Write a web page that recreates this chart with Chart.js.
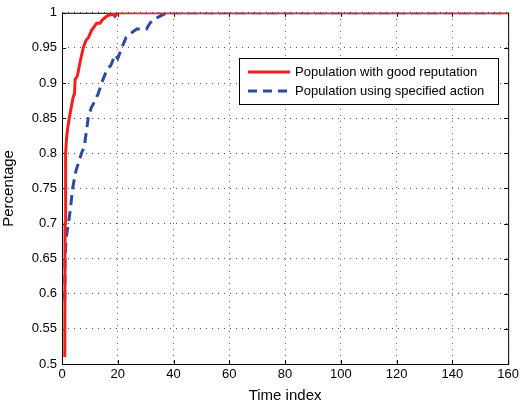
<!DOCTYPE html>
<html>
<head>
<meta charset="utf-8">
<script src="https://cdn.jsdelivr.net/npm/chart.js@4"></script>
<style>
  html, body { margin: 0; padding: 0; background: #fff; }
  #wrap { width: 522px; height: 405px; }
</style>
</head>
<body>
<div id="wrap"><canvas id="myChart" width="522" height="405"></canvas></div>
<script>
// Данные
const xTicks = [0, 20, 40, 60, 80, 100, 120, 140, 160];
const yTicks = [0.5, 0.55, 0.6, 0.65, 0.7, 0.75, 0.8, 0.85, 0.9, 0.95, 1];

const goodX = [1, 1.1, 1.3, 1.6, 2, 2.6, 3.3, 4, 4.5, 4.7, 5.5, 6.5, 7.6, 8.5, 9.5, 10.6, 11.5, 12.4, 13.6, 14.5, 16, 17, 18.4, 19, 20, 22, 160];
const goodY = [0.51, 0.70, 0.80, 0.82, 0.835, 0.85, 0.865, 0.88, 0.885, 0.905, 0.91, 0.93, 0.95, 0.96, 0.965, 0.975, 0.98, 0.985, 0.985, 0.99, 0.995, 0.997, 0.998, 0.995, 1, 1, 1];

const actX = [1, 1.1, 1.5, 2.3, 3, 3.8, 5, 7, 8, 9.4, 10.5, 11.2, 13, 14.2, 16.2, 17.5, 19, 20, 21.4, 23, 24.4, 26.8, 30.3, 31.5, 32.7, 35, 37.5, 160];
const actY = [0.59, 0.65, 0.68, 0.70, 0.72, 0.75, 0.775, 0.80, 0.81, 0.85, 0.865, 0.87, 0.885, 0.90, 0.92, 0.925, 0.94, 0.935, 0.95, 0.965, 0.97, 0.977, 0.977, 0.985, 0.99, 0.995, 1, 1];

const labels = ['Population with good reputation', 'Population using specified action'];
const colors = ['rgb(240, 32, 32)', 'rgb(44, 74, 160)'];

const toPts = (xs, ys) => xs.map((x, i) => ({ x: x, y: ys[i] }));

const font = 'Liberation Sans, Arial, Helvetica, sans-serif';

// рамка и засечки внутрь (под линиями)
const frame = {
  id: 'frame',
  beforeDatasetsDraw(chart) {
    const c = chart.ctx;
    const a = chart.chartArea;
    const sx = chart.scales.x, sy = chart.scales.y;
    c.save();
    c.strokeStyle = '#000';
    c.lineWidth = 1;
    c.setLineDash([]);
    c.strokeRect(a.left + 0.5, a.top + 0.5, a.right - a.left, a.bottom - a.top);
    c.beginPath();
    xTicks.forEach(v => {
      const px = Math.round(sx.getPixelForValue(v)) + 0.5;
      c.moveTo(px, a.bottom); c.lineTo(px, a.bottom - 4);
      c.moveTo(px, a.top); c.lineTo(px, a.top + 4);
    });
    yTicks.forEach(v => {
      const py = Math.round(sy.getPixelForValue(v)) + 0.5;
      c.moveTo(a.left, py); c.lineTo(a.left + 4, py);
      c.moveTo(a.right, py); c.lineTo(a.right - 4, py);
    });
    c.stroke();
    c.restore();
  }
};

// легенда внутри графика
const boxLegend = {
  id: 'boxLegend',
  afterDraw(chart) {
    const c = chart.ctx;
    c.save();
    const bx = 239, by = 58, bw = 259, bh = 46;
    c.fillStyle = '#fff';
    c.fillRect(bx, by, bw, bh);
    c.strokeStyle = '#000';
    c.lineWidth = 1;
    c.strokeRect(bx + 0.5, by + 0.5, bw, bh);
    c.font = '13px ' + font;
    c.textBaseline = 'middle';
    labels.forEach((lab, i) => {
      const ly = by + 14 + i * 19;
      c.strokeStyle = colors[i];
      c.lineWidth = 3;
      c.setLineDash(i === 1 ? [9, 6] : []);
      c.beginPath();
      c.moveTo(248, ly);
      c.lineTo(290, ly);
      c.stroke();
      c.setLineDash([]);
      c.fillStyle = '#000';
      c.fillText(lab, 295, ly);
    });
    c.restore();
  }
};

const ctx = document.getElementById('myChart');
const myChart = new Chart(ctx, {
  type: 'line',
  data: {
    datasets: [{
      label: labels[0],
      data: toPts(goodX, goodY),
      borderColor: colors[0],
      borderWidth: 3,
      pointRadius: 0,
      tension: 0,
      fill: false
    }, {
      label: labels[1],
      data: toPts(actX, actY),
      borderColor: colors[1],
      borderWidth: 3,
      borderDash: [10, 6],
      pointRadius: 0,
      tension: 0,
      fill: false
    }]
  },
  options: {
    responsive: false,
    animation: false,
    layout: {
      padding: { left: 0, top: 12, right: 13, bottom: 0 }
    },
    plugins: {
      legend: { display: false },
      tooltip: { enabled: false }
    },
    scales: {
      x: {
        type: 'linear',
        min: 0,
        max: 160,
        afterBuildTicks: (s) => { s.ticks = xTicks.map(v => ({ value: v })); },
        afterFit: (s) => { s.height = 41; },
        grid: {
          color: '#555',
          lineWidth: 1,
          drawTicks: false
        },
        border: { display: false, dash: [1, 5] },
        ticks: {
          color: '#000',
          padding: 3,
          maxRotation: 0,
          font: { family: font, size: 13 }
        },
        title: {
          display: true,
          text: 'Time index',
          color: '#000',
          padding: { top: 0, bottom: 0 },
          font: { family: font, size: 15 }
        }
      },
      y: {
        type: 'linear',
        min: 0.5,
        max: 1,
        afterBuildTicks: (s) => { s.ticks = yTicks.map(v => ({ value: v })); },
        afterFit: (s) => { s.width = 62; },
        grid: {
          color: '#555',
          lineWidth: 1,
          drawTicks: false
        },
        border: { display: false, dash: [1, 5] },
        ticks: {
          color: '#000',
          padding: 5,
          font: { family: font, size: 13 },
          callback: (v) => String(+v.toFixed(2))
        },
        title: {
          display: true,
          text: 'Percentage',
          color: '#000',
          padding: { top: 0, bottom: 2 },
          font: { family: font, size: 15 }
        }
      }
    }
  },
  plugins: [frame, boxLegend]
});
</script>
</body>
</html>
